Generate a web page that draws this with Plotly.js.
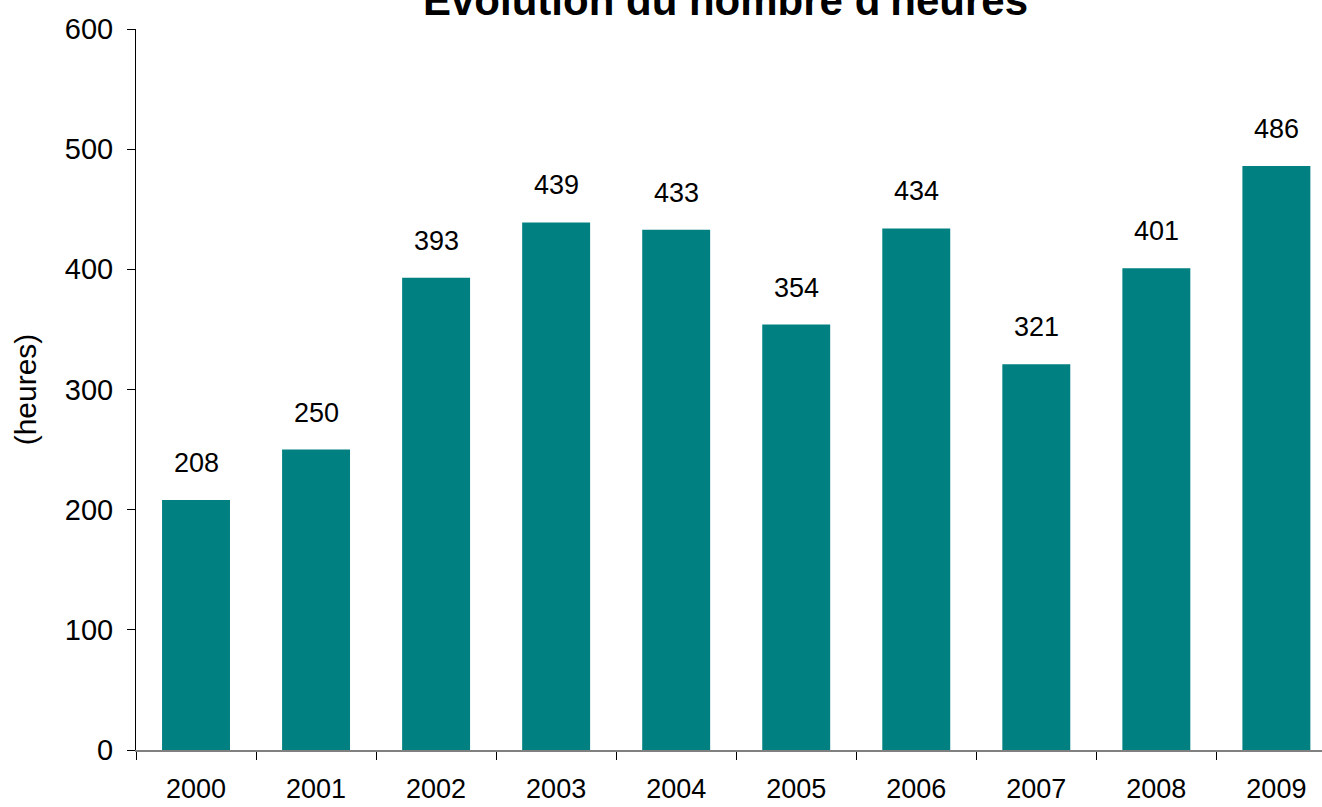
<!DOCTYPE html>
<html>
<head>
<meta charset="utf-8">
<script src="https://cdn.plot.ly/plotly-3.0.1.min.js"></script>
<style>html,body{margin:0;padding:0;background:#fff;}#chart{width:1322px;height:807px;}</style>
</head>
<body>
<div id="chart"></div>
<script>
const years = ["2000","2001","2002","2003","2004","2005","2006","2007","2008","2009"];
const hours = [208, 250, 393, 439, 433, 354, 434, 321, 401, 486];
const yTicks = [0, 100, 200, 300, 400, 500, 600];
const chartTitle = "Évolution du nombre d'heures";
const yTitle = "(heures)";

const FONT = "Liberation Sans, Arial, Helvetica, sans-serif";

const trace = {
  type: "bar",
  x: years,
  y: hours,
  marker: {color: "#008080", line: {width: 0}},
  hoverinfo: "x+y"
};

const labelAnns = years.map((yr, i) => ({
  x: i, y: hours[i], xref: "x", yref: "y",
  text: String(hours[i]), showarrow: false,
  yanchor: "bottom", yshift: 20,
  font: {family: FONT, size: 27, color: "#000"}
}));

labelAnns.push({
  x: 0.497, y: 1.04, xref: "paper", yref: "paper",
  text: "<b>" + chartTitle + "</b>", showarrow: false,
  xanchor: "center", yanchor: "middle",
  font: {family: FONT, size: 42, color: "#000"}
});

const layout = {
  width: 1322, height: 807,
  margin: {l: 136, r: 0, t: 29, b: 57, pad: 0},
  paper_bgcolor: "#fff", plot_bgcolor: "#fff",
  showlegend: false,
  bargap: 0.434,
  font: {family: FONT, size: 27, color: "#000"},
  xaxis: {
    type: "category",
    range: [-0.5, 9.38],
    showgrid: false, zeroline: false,
    showline: true, linecolor: "#808080", linewidth: 2,
    ticks: "outside", tickson: "boundaries", ticklen: 8, tickcolor: "#000", tickwidth: 1,
    tickfont: {family: FONT, size: 27, color: "#000"},
    ticklabelstandoff: 14,
    automargin: false
  },
  yaxis: {
    range: [0, 600],
    tickvals: yTicks,
    showgrid: false, zeroline: false,
    showline: true, linecolor: "#000", linewidth: 1,
    ticks: "outside", ticklen: 8, tickcolor: "#000", tickwidth: 1,
    tickfont: {family: FONT, size: 29, color: "#000"},
    ticklabelstandoff: 8,
    title: {text: yTitle, font: {family: FONT, size: 30, color: "#000"}, standoff: 19},
    automargin: false
  },
  annotations: labelAnns
};

Plotly.newPlot("chart", [trace], layout, {displayModeBar: false, staticPlot: true});
</script>
</body>
</html>
